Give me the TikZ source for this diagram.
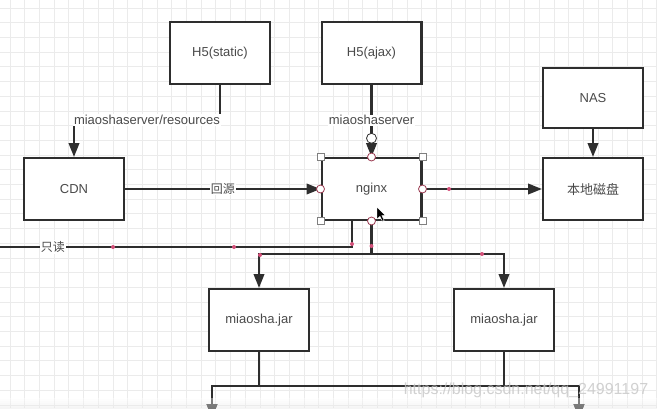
\documentclass[tikz,border=0pt]{standalone}
\usepackage{fontspec}
\setmainfont{Liberation Sans}
\newfontfamily\cjk{Noto Sans CJK SC}
\usetikzlibrary{arrows.meta}
\definecolor{dgLine}{HTML}{2E2E2E}
\definecolor{dgText}{HTML}{4A4A4A}
\definecolor{dgGrid}{HTML}{EBEBEB}
\definecolor{dgDot}{HTML}{D4507A}
\definecolor{dgHandle}{HTML}{9A3A50}

\tikzset{
  box/.style={draw=dgLine, line width=2.3pt, fill=white, minimum width=99.7pt, minimum height=61.7pt,
    font=\fontsize{13}{15}\selectfont, text=dgText},
  wire/.style={draw=dgLine, line width=2.2pt},
  arr/.style={wire, -{Triangle[width=10.5pt,length=14pt]}},
  lbl/.style={fill=white, inner sep=1pt, font=\fontsize{13}{15}\selectfont, text=dgText},
  sqhandle/.style={draw=gray, fill=white, line width=0.8pt, rectangle, minimum size=7pt, inner sep=0pt},
  circhandle/.style={draw=dgHandle, fill=white, line width=0.8pt, circle, minimum size=8pt, inner sep=0pt}
}

\begin{document}
\begin{tikzpicture}[x=1pt, y=-1pt]
  \clip (0,0) rectangle (657,408);
  \fill[white] (0,0) rectangle (657,408);

  % canvas grid
  \foreach \g in {0,...,44}
    \draw[dgGrid, line width=0.8pt] ({10+14.7*\g},0) -- ++(0,408);
  \foreach \g in {0,...,27}
    \draw[dgGrid, line width=0.8pt] (0,{8+14.7*\g}) -- ++(657,0);

  % boxes
  \node[box] (static) at (220,53) {H5(static)};
  \node[box] (ajax) at (371.5,53) {H5(ajax)};
  \node[box, minimum height=59.7pt] (nas) at (593,98) {NAS};
  \node[box] (cdn) at (74,189) {CDN};
  \node[box] (nginx) at (371.5,189) {nginx};
  \node[box, font=\cjk\fontsize{13}{15}\selectfont] (disk) at (593,189) {本地磁盘};
  \node[box] (jarl) at (259,320) {miaosha.jar};
  \node[box] (jarr) at (504,320) {miaosha.jar};

  % top connectors
  \draw[arr] (static.south) -- ++(0,35) -| (cdn.north) node[lbl, pos=0.25] {miaoshaserver/resources};
  \draw[arr] (ajax) -- (nginx) node[lbl, pos=0.49] {miaoshaserver};
  \draw[arr] (cdn) -- (nginx) node[lbl, font=\cjk\fontsize{12}{14}\selectfont, midway] {回源};
  \draw[arr] (nginx) -- (disk);
  \draw[arr] (nas) -- (disk);

  % read-only line
  \coordinate (tap) at ([xshift=-19.5pt]nginx.south);
  \coordinate (ro) at (0,247);
  \draw[wire] (tap) |- (ro) node[lbl, font=\cjk\fontsize{12}{14}\selectfont, pos=0.925] {只读};

  % fan-out to the jars
  \coordinate (split) at (371.5,254);
  \draw[wire] (nginx.south) -- (split);
  \draw[arr] (split) -| (jarl.north);
  \draw[arr] (split) -| (jarr.north);

  % jar outputs
  \coordinate (outl) at (212,418);
  \coordinate (outr) at (579,418);
  \foreach \j in {jarl, jarr} {
    \draw[arr] (\j.south) -- ++(0,34) -| (outl);
    \draw[arr] (\j.south) -- ++(0,34) -| (outr);
  }

  % waypoints
  \foreach \p in {(113,247),(234,247),(352,244),(371.5,246),(260,255),(482,254),(449,189)}
    \fill[dgDot] \p circle (2);

  % selection handles
  \foreach \a in {north west, north east, south west, south east}
    \node[sqhandle] at (nginx.\a) {};
  \foreach \a in {north, south, west, east}
    \node[circhandle] at (nginx.\a) {};
  \path (ajax.south) -- (nginx.north) node[circhandle, draw=dgLine, minimum size=10pt, pos=0.74] {};

  % mouse pointer
  \filldraw[fill=black, draw=white, line width=0.4pt]
    (377,207) -- (377,219) -- (380,216.3) -- (382.4,221.3) -- (384.2,220.5) -- (381.9,215.6) -- (385.6,215.6) -- cycle;

  % watermark
  \node[font=\fontsize{16}{18}\selectfont, text=gray!45, opacity=0.8] (mark) at (526,390) {https://blog.csdn.net/qq\_24991197};
  \shade[top color=white, bottom color=gray!20, opacity=0.4] (0,398) rectangle (657,408);
\end{tikzpicture}
\end{document}
